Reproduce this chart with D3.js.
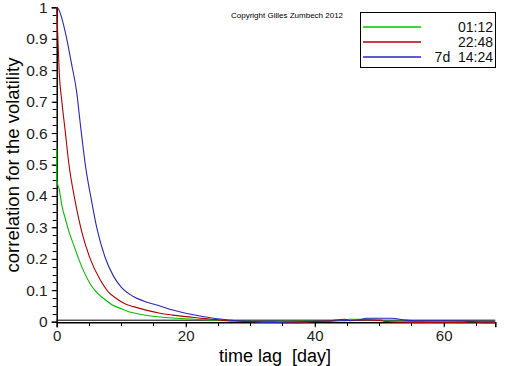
<!DOCTYPE html>
<html><head><meta charset="utf-8">
<script src="https://cdn.jsdelivr.net/npm/d3@7"></script>
<style>body{margin:0;background:#fff}svg{display:block}text{font-family:"Liberation Sans",Arial,sans-serif}</style>
</head><body>
<script>
const seriesNames = ["01:12", "22:48", "7d 14:24"];
const seriesColors = ["#00c000", "#b40000", "#2828c0"];
const greenX = [0,0.03,0.4,0.8,1.3,2.0,2.8,3.4,4.2,5.2,6.2,7.2,8.5,9.8,11.5,13.4,16,18.6,22,25,28,30,32,35,40,43,45.5,49.8,51,55,60,65,68];
const greenY = [0.555,0.45,0.42,0.37,0.33,0.28,0.235,0.2,0.16,0.12,0.093,0.075,0.055,0.043,0.03,0.022,0.015,0.011,0.007,0.004,0.002,0.001,0,0.001,0.001,0.003,0.008,0.008,0.002,0.001,0,0,0];
const redX = [0,0.15,0.4,0.8,1.3,1.9,2.8,3.9,5.2,6.7,8,9.3,10.5,11.9,14,16,18,20,22,24,26,28,30,33,35,38,40,42,44.7,45.5,48,50,52,55,60,63.5,64.5,66,68];
const redY = [1,0.92,0.79,0.70,0.61,0.5,0.39,0.285,0.2,0.135,0.095,0.073,0.058,0.048,0.036,0.027,0.021,0.016,0.012,0.008,0.004,0.002,0,-0.001,-0.003,-0.003,0.001,0.002,0.008,0.003,0.006,0.004,-0.001,-0.002,-0.002,-0.002,0,-0.003,-0.003];
const blueX = [0,0.3,0.8,1.5,2.3,3.1,3.6,4.5,5.4,6.2,7.5,8.8,10,11.9,14,16,18,20,22,24,26,28,30,32,34,36,38,40,44,47,48,52,54,56,60,63,65,68];
const blueY = [1,0.994,0.965,0.905,0.82,0.73,0.64,0.49,0.385,0.3,0.205,0.145,0.11,0.08,0.062,0.05,0.037,0.027,0.019,0.012,0.007,0.003,0.001,-0.002,-0.002,-0.001,0,0.001,0.003,0.006,0.011,0.011,0.005,0.003,0.003,0.002,0,0];
const xTicks = [0,20,40,60];
const yTicks = [0,0.1,0.2,0.3,0.4,0.5,0.6,0.7,0.8,0.9,1];

const W = 512, H = 366;
const svg = d3.select("body").append("svg").attr("width", W).attr("height", H);
const x = d3.scaleLinear().domain([0, 68]).range([56.7, 495.3]);
const y = d3.scaleLinear().domain([0, 1]).range([321.7, 7.3]);

// y axis
const yAxis = d3.axisLeft(y).tickValues(yTicks).tickFormat(d => d === 0 ? "0" : d === 1 ? "1" : d3.format(".1f")(d)).tickSize(5).tickPadding(4);
const yMinor = d3.range(0, 1.0001, 0.025);
svg.append("g").attr("transform", `translate(${x(0)},0)`)
  .selectAll("line").data(yMinor).join("line")
  .attr("x1", -4).attr("x2", 0).attr("y1", d => Math.round(y(d)) + 0.5).attr("y2", d => Math.round(y(d)) + 0.5)
  .attr("stroke", "#000");
const gy = svg.append("g").attr("transform", `translate(${x(0)},0)`).call(yAxis);
gy.select(".domain").attr("stroke", "#000").attr("stroke-width", 1.5);
gy.selectAll("text").attr("font-size", 15.5).attr("fill", "#222");

// x axis
const xMinor = d3.range(0, 68, 5);
svg.append("g").selectAll("line").data(xMinor).join("line")
  .attr("x1", d => Math.round(x(d)) + 0.5).attr("x2", d => Math.round(x(d)) + 0.5)
  .attr("y1", 322).attr("y2", 326).attr("stroke", "#000");
const xAxis = d3.axisBottom(x).tickValues(xTicks).tickFormat(d3.format("d")).tickSize(5).tickPadding(3);
const gx = svg.append("g").attr("transform", `translate(0,${y(0) + 0.6})`).call(xAxis);
gx.select(".domain").attr("stroke", "#000").attr("stroke-width", 1.5);
gx.selectAll("text").attr("font-size", 15).attr("fill", "#222");
svg.append("line").attr("x1", x(0)).attr("x2", x(68)).attr("y1", y(0) - 1.5).attr("y2", y(0) - 1.5).attr("stroke", "#000").attr("stroke-width", 1);

// curves
const sets = [[greenX, greenY], [redX, redY], [blueX, blueY]];
const line = d3.line().x(d => x(d[0])).y(d => y(d[1])).curve(d3.curveMonotoneX);
sets.forEach((s, i) => {
  const pts = s[0].map((v, j) => [v, s[1][j]]);
  svg.append("path").datum(pts).attr("d", line).attr("fill", "none")
    .attr("stroke", seriesColors[i]).attr("stroke-width", 1.1);
});

// titles
svg.append("text").attr("x", 275).attr("y", 362).attr("text-anchor", "middle")
  .attr("font-size", 18).attr("fill", "#000").style("white-space", "pre").text("time lag  [day]");
svg.append("text").attr("transform", "translate(19,165) rotate(-90)").attr("text-anchor", "middle")
  .attr("font-size", 18.5).attr("fill", "#000").text("correlation for the volatility");
svg.append("text").attr("x", 231).attr("y", 18).attr("font-size", 8).attr("fill", "#000")
  .text("Copyright Gilles Zumbech 2012");

// legend
const lg = svg.append("g");
lg.append("rect").attr("x", 360.5).attr("y", 12.5).attr("width", 135).attr("height", 55)
  .attr("fill", "#fff").attr("stroke", "#000");
seriesNames.forEach((n, i) => {
  const yy = 27 + i * 15;
  lg.append("line").attr("x1", 363).attr("x2", 421).attr("y1", yy).attr("y2", yy)
    .attr("stroke", seriesColors[i]).attr("stroke-width", 1.3);
  lg.append("text").attr("x", 493).attr("y", yy + 5).attr("text-anchor", "end")
    .attr("font-size", 14).attr("fill", "#111").style("white-space", "pre").text(n.replace(" ", "  "));
});
</script>
</body></html>
